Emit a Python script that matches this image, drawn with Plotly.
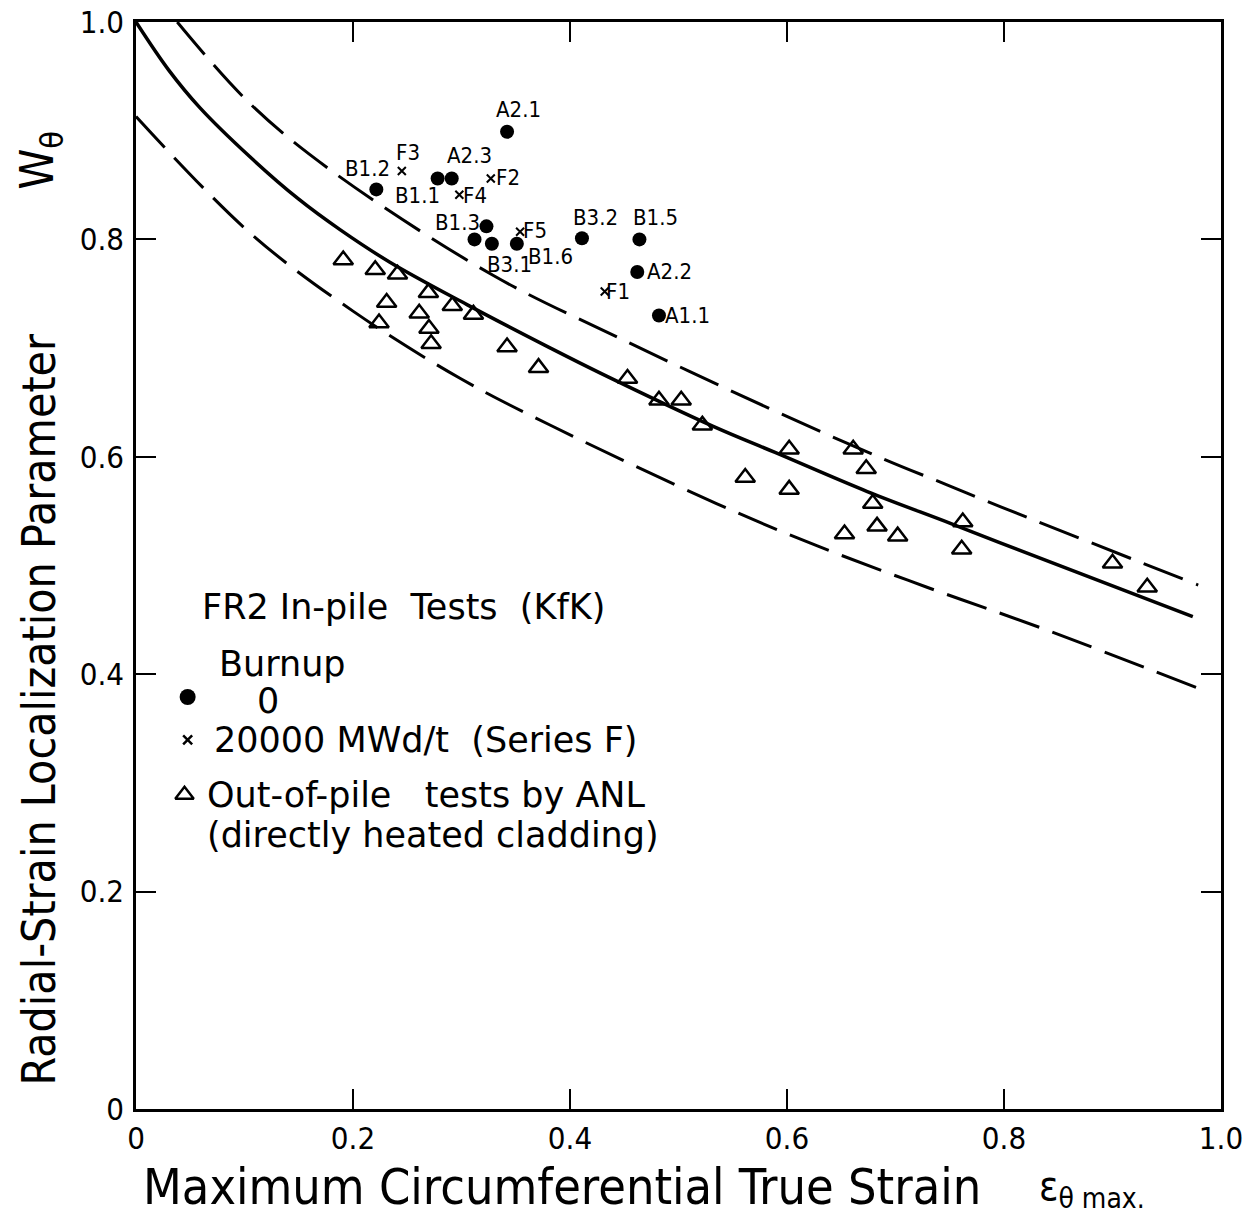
import plotly.graph_objects as go

# ---------------- data ----------------
# FR2 in-pile tests, burnup 0 (filled circles)
circle_x = [0.342, 0.2215, 0.278, 0.291, 0.323, 0.312, 0.328, 0.351, 0.411, 0.464, 0.462, 0.482]
circle_y = [0.899, 0.846, 0.856, 0.856, 0.812, 0.800, 0.796, 0.796, 0.801, 0.800, 0.770, 0.730]
circle_labels = ["A2.1", "B1.2", "B1.1", "A2.3", "B1.3", "", "B3.1", "B1.6", "B3.2", "B1.5", "A2.2", "A1.1"]

# FR2 in-pile tests, 20000 MWd/t (Series F, crosses)
cross_x = [0.245, 0.298, 0.327, 0.354, 0.432]
cross_y = [0.863, 0.841, 0.856, 0.807, 0.752]
cross_labels = ["F3", "F4", "F2", "F5", "F1"]

# Out-of-pile tests by ANL (open triangles)
tri_x = [0.191, 0.2205, 0.241, 0.231, 0.224, 0.2695, 0.261, 0.270, 0.272, 0.2915,
         0.311, 0.342, 0.371, 0.453, 0.482, 0.5025, 0.522, 0.5615, 0.602, 0.602,
         0.653, 0.661, 0.673, 0.679, 0.683, 0.702, 0.762, 0.761, 0.900, 0.932]
tri_y = [0.781, 0.772, 0.768, 0.742, 0.723, 0.751, 0.732, 0.718, 0.704, 0.739,
         0.731, 0.701, 0.682, 0.672, 0.652, 0.652, 0.629, 0.581, 0.607, 0.570,
         0.529, 0.607, 0.589, 0.557, 0.536, 0.527, 0.540, 0.515, 0.502, 0.480]

# Mean curve (solid) and scatter band (dashed)
mean_x = [0.0, 0.030, 0.059, 0.105, 0.150, 0.188, 0.234, 0.305, 0.382, 0.428, 0.532, 0.589, 0.674, 0.750, 0.796, 0.974]
mean_y = [1.0, 0.956, 0.921, 0.876, 0.837, 0.809, 0.779, 0.740, 0.700, 0.677, 0.628, 0.604, 0.568, 0.539, 0.521, 0.453]

upper_x = [0.038, 0.105, 0.179, 0.329, 0.446, 0.587, 0.689, 0.748, 0.797, 0.979]
upper_y = [1.0, 0.925, 0.864, 0.767, 0.709, 0.643, 0.598, 0.574, 0.554, 0.482]

lower_x = [0.0, 0.105, 0.200, 0.299, 0.382, 0.535, 0.628, 0.729, 0.833, 0.979]
lower_y = [0.913, 0.806, 0.734, 0.672, 0.629, 0.557, 0.518, 0.480, 0.443, 0.387]

tick_vals = [0, 0.2, 0.4, 0.6, 0.8, 1.0]
tick_text = ["0", "0.2", "0.4", "0.6", "0.8", "1.0"]

# ---------------- styling ----------------
COND = "DejaVu Sans Condensed, DejaVu Sans, sans-serif"
WIDE = "DejaVu Sans, sans-serif"
DASH = "42px,14px"

# label offsets (pixels) for point labels
label_offsets = {
    "A2.1": (11, 22), "B1.2": (-9, 21), "B1.1": (-20, -17), "A2.3": (18, 23),
    "B1.3": (-29, 4), "B3.1": (18, -21), "B1.6": (34, -13), "B3.2": (14, 21),
    "B1.5": (16, 22), "A2.2": (32, 1), "A1.1": (29, 0),
    "F3": (6, 18), "F4": (16, -1), "F2": (17, 1), "F5": (15, 1), "F1": (13, 0),
}

fig = go.Figure()

fig.add_trace(go.Scatter(x=mean_x, y=mean_y, mode="lines",
                         line=dict(color="black", width=3.5, shape="spline", smoothing=1.0),
                         showlegend=False, hoverinfo="skip"))
fig.add_trace(go.Scatter(x=upper_x, y=upper_y, mode="lines",
                         line=dict(color="black", width=3, dash=DASH, shape="spline"),
                         showlegend=False, hoverinfo="skip"))
fig.add_trace(go.Scatter(x=lower_x, y=lower_y, mode="lines",
                         line=dict(color="black", width=3, dash=DASH, shape="spline"),
                         showlegend=False, hoverinfo="skip"))

fig.add_trace(go.Scatter(x=tri_x, y=tri_y, mode="markers",
                         marker=dict(symbol="triangle-up-open", size=17, color="black", line=dict(width=2.5, color="black")),
                         showlegend=False))
fig.add_trace(go.Scatter(x=circle_x, y=circle_y, mode="markers",
                         marker=dict(symbol="circle", size=14, color="black"),
                         showlegend=False))
fig.add_trace(go.Scatter(x=cross_x, y=cross_y, mode="markers",
                         marker=dict(symbol="x-thin", size=8, color="black", line=dict(width=2, color="black")),
                         showlegend=False))

annotations = []
for xs, ys, labs in [(circle_x, circle_y, circle_labels), (cross_x, cross_y, cross_labels)]:
    for xv, yv, lab in zip(xs, ys, labs):
        if not lab:
            continue
        dx, dy = label_offsets[lab]
        annotations.append(dict(x=xv, y=yv, xref="x", yref="y", text=lab, showarrow=False,
                                xanchor="center", yanchor="middle",
                                xshift=dx, yshift=dy, font=dict(family=COND, size=22, color="black")))

# legend block (symbols)
leg_sym_x = [0.0476, 0.0476, 0.0447]
leg_sym_y = [0.379, 0.3395, 0.289]
fig.add_trace(go.Scatter(x=[leg_sym_x[0]], y=[leg_sym_y[0]], mode="markers",
                         marker=dict(symbol="circle", size=16, color="black"), showlegend=False))
fig.add_trace(go.Scatter(x=[leg_sym_x[1]], y=[leg_sym_y[1]], mode="markers",
                         marker=dict(symbol="x-thin", size=9, color="black", line=dict(width=2.5, color="black")),
                         showlegend=False))
fig.add_trace(go.Scatter(x=[leg_sym_x[2]], y=[leg_sym_y[2]], mode="markers",
                         marker=dict(symbol="triangle-up-open", size=16, color="black", line=dict(width=2.5, color="black")),
                         showlegend=False))

leg_font = dict(family=WIDE, size=35, color="black")
legend_texts = [
    (0.0594, 0.462, "FR2 In-pile\u00a0 Tests\u00a0 (KfK)"),
    (0.075, 0.4095, "Burnup"),
    (0.110, 0.3755, "0"),
    (0.0705, 0.3395, "20000 MWd/t\u00a0\u00a0(Series F)"),
    (0.064, 0.289, "Out-of-pile\u00a0\u00a0\u00a0tests by ANL"),
    (0.064, 0.252, "(directly\u00a0heated\u00a0cladding)"),
]
for xv, yv, t in legend_texts:
    annotations.append(dict(x=xv, y=yv, xref="x", yref="y", text=t, showarrow=False,
                            xanchor="left", yanchor="middle", font=leg_font))

# axis titles
annotations.append(dict(x=-0.0898, y=0.368, xref="paper", yref="paper", textangle=-90,
                        xanchor="center", yanchor="middle",
                        text="Radial-Strain Localization Parameter",
                        showarrow=False, font=dict(family=COND, size=46, color="black")))
annotations.append(dict(x=-0.088, y=0.873, xref="paper", yref="paper", textangle=-90,
                        xanchor="center", yanchor="middle",
                        text="W<sub>\u03b8</sub>",
                        showarrow=False, font=dict(family=COND, size=46, color="black")))
annotations.append(dict(x=0.393, y=-0.0718, xref="paper", yref="paper",
                        xanchor="center", yanchor="middle",
                        text="Maximum Circumferential True Strain",
                        showarrow=False, font=dict(family=COND, size=50, color="black")))
annotations.append(dict(x=0.830, y=-0.074, xref="paper", yref="paper", xanchor="left", yanchor="middle",
                        text="\u03b5<sub>\u03b8 max.</sub>",
                        showarrow=False, font=dict(family=COND, size=40, color="black")))

axis_common = dict(range=[0, 1], showgrid=False, zeroline=False, showline=True, linecolor="black",
                   linewidth=2.5, mirror="ticks", ticks="inside", ticklen=20, tickwidth=2,
                   tickcolor="black", tickvals=tick_vals, ticktext=tick_text,
                   ticklabeloverflow="allow",
                   tickfont=dict(family=COND, size=31, color="black"))

fig.update_layout(
    width=1251, height=1216,
    margin=dict(l=128, r=38, t=14, b=115, autoexpand=False),
    plot_bgcolor="white", paper_bgcolor="white",
    xaxis=dict(axis_common),
    yaxis=dict(axis_common, ticklabelstandoff=3),
    annotations=annotations,
    showlegend=False,
)

fig.write_html("out.html")
